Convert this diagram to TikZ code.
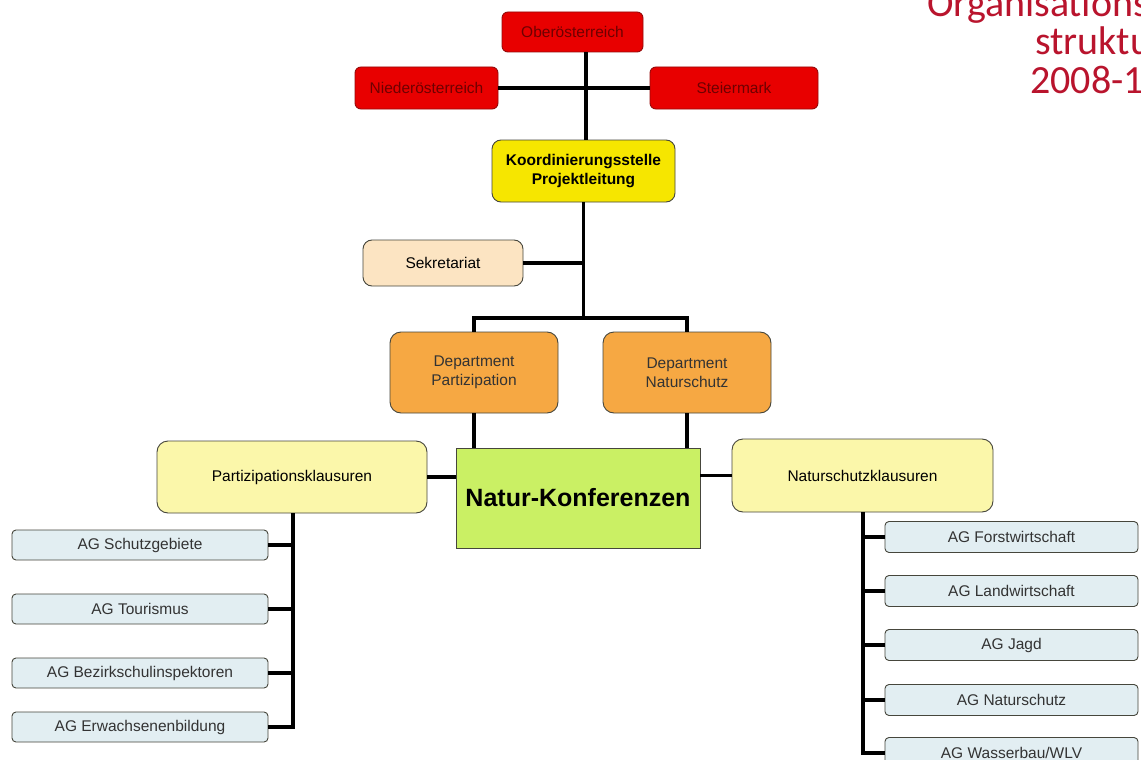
\documentclass[tikz,border=0pt]{standalone}
\usepackage{fontspec}
\setmainfont{Liberation Sans}
\newfontfamily\titlefont{Carlito}
\definecolor{redfill}{RGB}{232,0,0}
\definecolor{redline}{RGB}{150,10,10}
\definecolor{redtext}{RGB}{110,0,0}
\definecolor{koordfill}{RGB}{246,230,0}
\definecolor{sekrfill}{RGB}{252,228,194}
\definecolor{deptfill}{RGB}{246,168,67}
\definecolor{klfill}{RGB}{251,247,170}
\definecolor{naturfill}{RGB}{202,240,100}
\definecolor{agfill}{RGB}{226,238,242}
\definecolor{boxline}{RGB}{70,70,60}
\definecolor{titlered}{RGB}{185,20,45}
\tikzset{
  basebox/.style={draw=boxline, line width=0.9pt, inner sep=0pt, align=center,
    font=\fontsize{15.5}{18.5}\selectfont},
  redbox/.style={basebox, draw=redline, fill=redfill, rounded corners=6pt, text=redtext},
  koordbox/.style={basebox, fill=koordfill, rounded corners=9pt,
    font=\fontsize{15.5}{19.5}\selectfont\bfseries},
  sekrbox/.style={basebox, fill=sekrfill, rounded corners=9pt},
  deptbox/.style={basebox, draw=boxline, fill=deptfill, rounded corners=11pt, text=black!80},
  klbox/.style={basebox, fill=klfill, rounded corners=11pt},
  naturbox/.style={basebox, fill=naturfill, font=\fontsize{25}{30}\selectfont\bfseries},
  agbox/.style={basebox, fill=agfill, rounded corners=4pt, text=black!80},
  conn/.style={line width=3.2pt, black},
  titletext/.style={anchor=base west, inner sep=0pt, text=titlered,
    font=\titlefont\fontsize{40}{40}\selectfont}
}
\begin{document}
\begin{tikzpicture}[x=1pt, y=-1pt]
\useasboundingbox (0,0) rectangle (1141,760);
\clip (0,0) rectangle (1141,760);
\fill[white] (0,0) rectangle (1141,760);

% title (cut off at the right edge, as in the reference)
\node[titletext] (t1) at (927,17) {Organisations};
\node[titletext] (t2) at (1035,55) {struktur};
\node[titletext] (t3) at (1030,93) {2008-10};

% nodes
\node[redbox, minimum width=141pt, minimum height=40pt] (ober) at (572.5,32) {Oberösterreich};
\node[redbox, minimum width=143pt, minimum height=42pt] (nieder) at (426.5,88) {Niederösterreich};
\node[redbox, minimum width=168pt, minimum height=42pt] (steier) at (734,88) {Steiermark};
\node[koordbox, minimum width=183pt, minimum height=62pt] (koord) at (583.5,171) {Koordinierungsstelle\\Projektleitung};
\node[sekrbox, minimum width=160pt, minimum height=46pt] (sekr) at (443,263) {Sekretariat};
\node[deptbox, minimum width=168pt, minimum height=81pt] (deptP) at (474,372.5) {Department\\Partizipation};
\node[deptbox, minimum width=168pt, minimum height=81pt] (deptN) at (687,372.5) {Department\\Naturschutz};
\node[naturbox, minimum width=244pt, minimum height=100pt] (natur) at (578,498) {Natur-Konferenzen};
\node[klbox, minimum width=270pt, minimum height=72pt] (klP) at (292,477) {Partizipationsklausuren};
\node[klbox, minimum width=261pt, minimum height=73pt] (klN) at (862.5,475.5) {Naturschutzklausuren};

\node[agbox, minimum width=256pt, minimum height=30pt] (ag1) at (140,545) {AG Schutzgebiete};
\node[agbox, minimum width=256pt, minimum height=30pt] (ag2) at (140,609) {AG Tourismus};
\node[agbox, minimum width=256pt, minimum height=30pt] (ag3) at (140,673) {AG Bezirkschulinspektoren};
\node[agbox, minimum width=256pt, minimum height=30pt] (ag4) at (140,727) {AG Erwachsenenbildung};

\node[agbox, minimum width=253pt, minimum height=31pt] (ag5) at (1011.5,537) {AG Forstwirtschaft};
\node[agbox, minimum width=253pt, minimum height=31pt] (ag6) at (1011.5,591) {AG Landwirtschaft};
\node[agbox, minimum width=253pt, minimum height=31pt] (ag7) at (1011.5,645) {AG Jagd};
\node[agbox, minimum width=253pt, minimum height=31pt] (ag8) at (1011.5,700) {AG Naturschutz};
\node[agbox, minimum width=253pt, minimum height=31pt] (ag9) at (1011.5,753) {AG Wasserbau/WLV};

% connectors
\coordinate (vtop) at (586,0);
\draw[conn] (ober.south -| vtop) -- (koord.north -| vtop);
\draw[conn] (nieder.east) -- (steier.west);
\coordinate (bus) at (0,318);
\draw[conn] (koord.south) -- (koord.south |- bus);
\draw[conn] (sekr.east) -- (sekr.east -| koord.south);
\draw[conn] (deptP.north) -- (deptP.north |- bus) -- (deptN.north |- bus) -- (deptN.north);
\draw[conn] (deptP.south) -- (natur.north -| deptP.south);
\draw[conn] (deptN.south) -- (natur.north -| deptN.south);
\draw[conn] (klP.east) -- (klP.east -| natur.west);
\draw[conn] (natur.east |- klN.west) -- (klN.west);

\coordinate (lx) at (293,0);
\draw[conn] (klP.south -| lx) -- (ag4.east -| lx) -- (ag4.east);
\foreach \n in {ag1,ag2,ag3} \draw[conn] (lx |- \n.east) -- (\n.east);

\coordinate (rx) at (863,0);
\draw[conn] (klN.south -| rx) -- (ag9.west -| rx) -- (ag9.west);
\foreach \n in {ag5,ag6,ag7,ag8} \draw[conn] (rx |- \n.west) -- (\n.west);
\end{tikzpicture}
\end{document}
